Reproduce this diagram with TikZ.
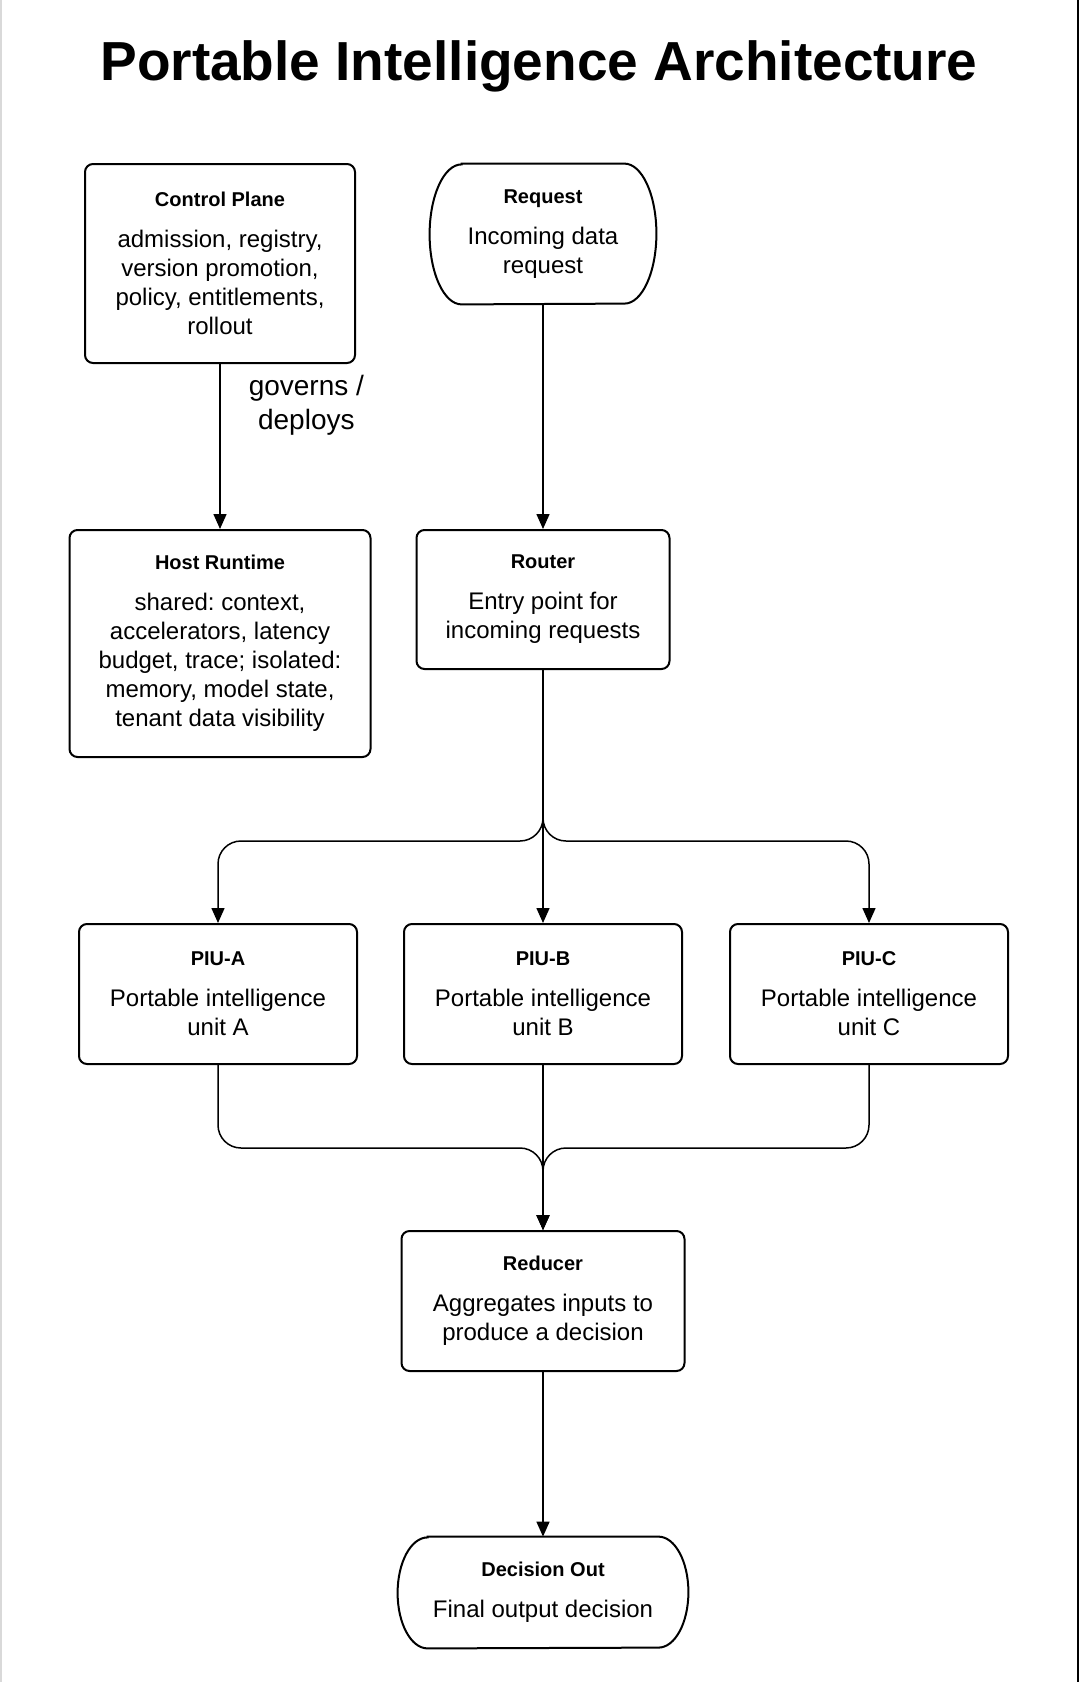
\documentclass[tikz,border=0pt]{standalone}
\usepackage{fontspec}
\setmainfont{Liberation Sans}
\usetikzlibrary{arrows.meta}
\usetikzlibrary{positioning}
\frenchspacing
\tikzset{box/.style = {draw, line width=1pt, rounded corners=4pt, align=center,
                       inner sep=0pt, font=\fontsize{12}{14.5}\selectfont},
         term/.style = {align=center, inner sep=0pt, font=\fontsize{12}{14.5}\selectfont},
         dims/.style 2 args = {minimum width=#1, minimum height=#2},
         link/.style = {line width=0.75pt, -{Triangle[length=7.5pt,width=6.5pt]}},
         elabel/.style = {align=center, inner sep=0pt, font=\fontsize{14}{17}\selectfont},
         heading/.style = {inner sep=0pt, font=\fontsize{27.5}{33}\selectfont\bfseries}}
\newcommand{\boxhead}[1]{{\fontsize{10}{12}\selectfont\bfseries #1}\\[6pt]}
\newcommand{\stadium}[3]{%
  \draw [line width=1pt] ([xshift=#2]#1.north west) -- ([xshift=-#2]#1.north east)
    arc [start angle=90, end angle=-90, x radius=#2, y radius=#3]
    -- ([xshift=#2]#1.south west)
    arc [start angle=270, end angle=90, x radius=#2, y radius=#3] -- cycle;}

\begin{document}
\begin{tikzpicture}[x=0.5pt, y=-0.5pt]
    \useasboundingbox (0, 0) rectangle (1080, 1682);
    \draw [gray!30, line width=0.8pt] (1, 0) -- (1, 1682);
    \draw [line width=1.4pt] (1078, 0) -- (1078, 1682);

    \node (title) [heading, anchor=base] at (539, 80) {Portable Intelligence Architecture};

    % top row
    \node (ctrl) [box, dims={135pt}{99.5pt}] at (220, 263.5)
      {\boxhead{Control Plane}admission, registry,\\version promotion,\\policy, entitlements,\\rollout};
    \node (req) [term, dims={113pt}{70pt}] at (543, 234)
      {\boxhead{Request}Incoming data\\request};
    \stadium{req}{16pt}{35pt}

    % second row
    \node (host) [box, dims={150.5pt}{113.5pt}] at (220, 643.5)
      {\boxhead{Host Runtime}shared: context,\\accelerators, latency\\budget, trace; isolated:\\memory, model state,\\tenant data visibility};
    \node (router) [box, dims={126.5pt}{69.5pt}] at (543, 599.5)
      {\boxhead{Router}Entry point for\\incoming requests};

    \draw [link] (ctrl.south) -- node (govern) [elabel, pos=0.25, right=14pt] {governs /\\deploys} (host.north);
    \draw [link] (req.south) -- (router.north);

    % units
    \coordinate (split) at (543, 841);
    \coordinate (join) at (543, 1148);
    \foreach \u/\x in {A/218, B/543, C/869}
      \node (piu\u) [box, dims={139pt}{70pt}] at (\x, 994)
        {\boxhead{PIU-\u}Portable intelligence\\unit \u};

    \draw [link] (router.south) -- (piuB.north);
    \draw [link, rounded corners=11.5pt] (router.south) -- (split) -| (piuA.north);
    \draw [link, rounded corners=11.5pt] (router.south) -- (split) -| (piuC.north);

    % reduce and output
    \node (reducer) [box, dims={141.5pt}{70pt}] at (543, 1301)
      {\boxhead{Reducer}Aggregates inputs to\\produce a decision};
    \node (out) [term, dims={145pt}{55.5pt}] at (543, 1592.5)
      {\boxhead{Decision Out}Final output decision};
    \stadium{out}{15pt}{27.75pt}

    \draw [link] (piuB.south) -- (reducer.north);
    \draw [link, rounded corners=11.5pt] (piuA.south) |- (join) -- (reducer.north);
    \draw [link, rounded corners=11.5pt] (piuC.south) |- (join) -- (reducer.north);
    \draw [link] (reducer.south) -- (out.north);
\end{tikzpicture}
\end{document}
